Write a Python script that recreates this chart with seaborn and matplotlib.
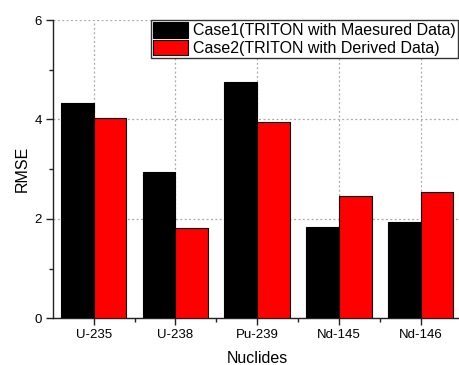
import matplotlib
matplotlib.use("Agg")
import matplotlib.pyplot as plt
from matplotlib.ticker import FixedLocator, MultipleLocator
import pandas as pd
import seaborn as sns

nuclides = ["U-235", "U-238", "Pu-239", "Nd-145", "Nd-146"]
case1 = [4.34, 2.94, 4.75, 1.83, 1.94]
case2 = [4.03, 1.81, 3.94, 2.47, 2.54]
series_names = ["Case1(TRITON with Maesured Data)", "Case2(TRITON with Derived Data)"]
colors = ["#000000", "#ff0000"]

df = pd.DataFrame({
    "Nuclides": nuclides * 2,
    "RMSE": case1 + case2,
    "Case": [series_names[0]] * len(nuclides) + [series_names[1]] * len(nuclides),
})

sns.set_style("white")
plt.rcParams["font.family"] = ["Liberation Sans", "DejaVu Sans"]
plt.rcParams["text.color"] = "black"
plt.rcParams["axes.labelcolor"] = "black"

fig = plt.figure(figsize=(4.6, 3.65), dpi=100)
ax = fig.add_axes([0.1146, 0.1279, 0.889, 0.8173])

sns.barplot(data=df, x="Nuclides", y="RMSE", hue="Case", order=nuclides,
            hue_order=series_names, palette=colors, saturation=1, width=0.8,
            edgecolor="black", linewidth=0.8, ax=ax, zorder=3)

ax.set_xlim(-0.5, 4.5)
ax.set_ylim(0, 6)
ax.yaxis.set_major_locator(MultipleLocator(2))
ax.yaxis.set_minor_locator(MultipleLocator(1))
ax.xaxis.set_minor_locator(FixedLocator([0.5, 1.5, 2.5, 3.5]))

ax.grid(True, which="major", color="#a8a8a8", linestyle=(0, (1.5, 2)), linewidth=0.9, zorder=0)
ax.set_axisbelow(True)

for side in ["top", "right"]:
    ax.spines[side].set_visible(False)
for side in ["left", "bottom"]:
    ax.spines[side].set_color("#222222")
    ax.spines[side].set_linewidth(1.0)

ax.tick_params(axis="both", which="major", direction="out", length=5, width=1,
               color="#222222", labelsize=9.5, labelcolor="black", pad=3,
               left=True, bottom=True)
ax.tick_params(axis="both", which="minor", direction="out", length=3, width=1,
               color="#222222", left=True, bottom=True)

ax.set_xlabel("Nuclides", fontsize=11.5, labelpad=7, color="black")
ax.set_ylabel("RMSE", fontsize=11.5, labelpad=3, color="black")

handles, labels = ax.get_legend_handles_labels()
leg = ax.legend(handles, labels, loc="upper right",
                bbox_to_anchor=(458 / 460, 1 - 20 / 365), bbox_transform=fig.transFigure,
                borderaxespad=0, fontsize=11.5, frameon=True, fancybox=False,
                edgecolor="#333333", framealpha=1, handlelength=2.2, handleheight=1.1,
                handletextpad=0.3, labelspacing=0.08, borderpad=0.15)
leg.get_frame().set_linewidth(1.0)
leg.set_zorder(5)

fig.savefig("out.png", dpi=100)
